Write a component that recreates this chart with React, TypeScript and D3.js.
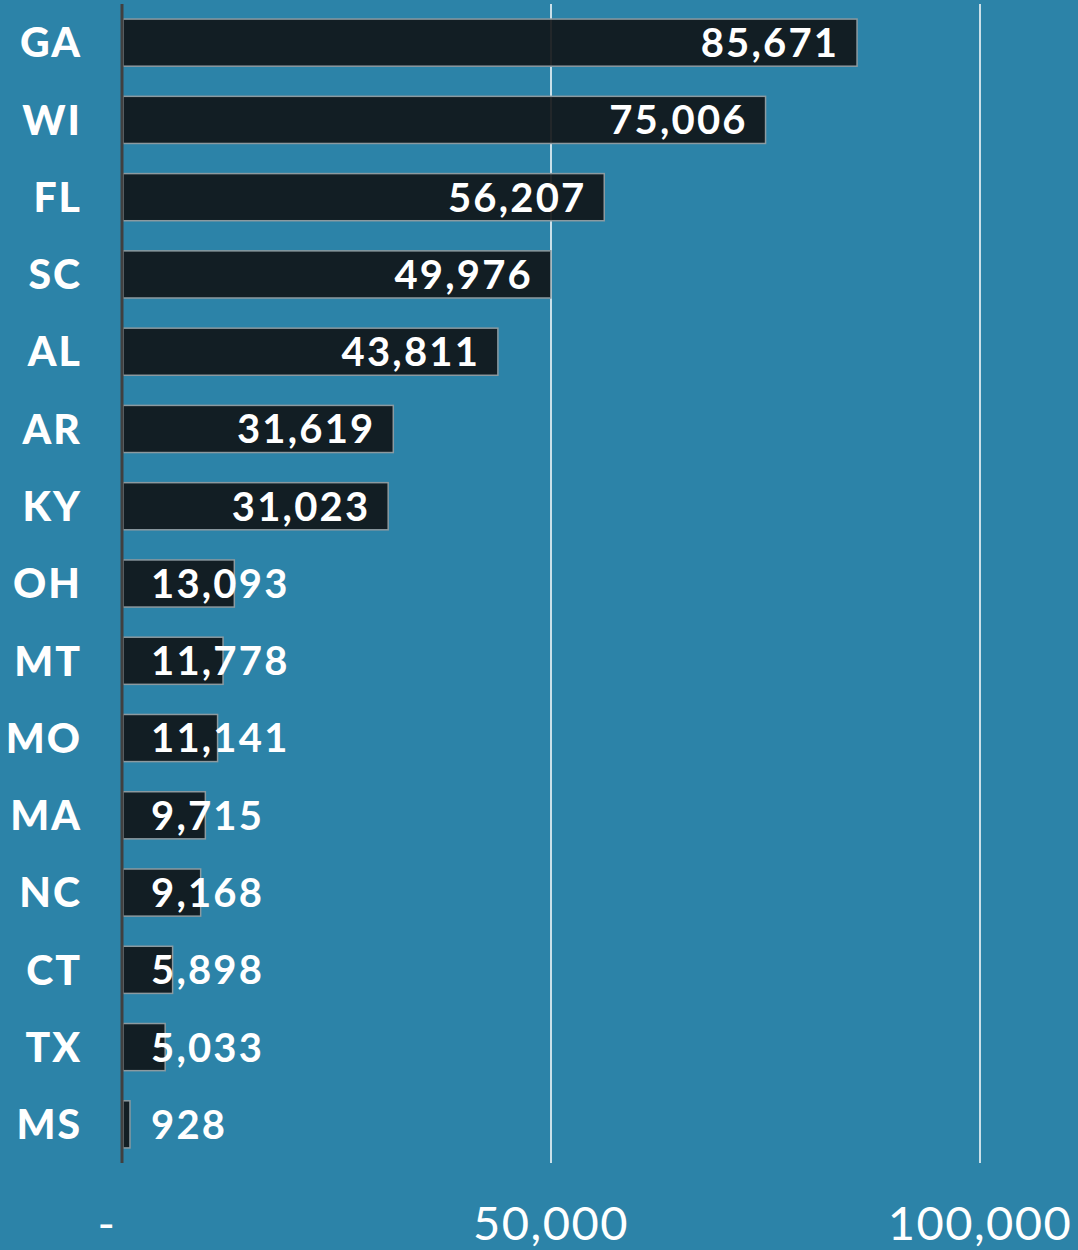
import React from "react";
import * as d3 from "d3";

const states = ["GA", "WI", "FL", "SC", "AL", "AR", "KY", "OH", "MT", "MO", "MA", "NC", "CT", "TX", "MS"];
const values = [85671, 75006, 56207, 49976, 43811, 31619, 31023, 13093, 11778, 11141, 9715, 9168, 5898, 5033, 928];
const ticks = [0, 50000, 100000];

const W = 1078;
const H = 1250;
const BG = "#2c83a8";
const FONT = "Lato, 'Noto Sans', sans-serif";

let ctx: CanvasRenderingContext2D | null = null;
function measure(text: string, font: string, spacing: number): number {
  if (!ctx) ctx = document.createElement("canvas").getContext("2d");
  if (!ctx) return text.length * 22;
  ctx.font = font;
  return ctx.measureText(text).width + spacing * text.length;
}

export default function App() {
  const x = d3.scaleLinear().domain([0, 100000]).range([122, 980]);
  const y = d3.scaleBand<string>().domain(states).range([4, 1163]).paddingInner(0.39).paddingOuter(0.195);
  const fmt = d3.format(",");
  const valueFont = `bold 40px ${FONT}`;
  const vSpacing = 2.2;

  return (
    <svg width={W} height={H} style={{ display: "block", position: "absolute", left: 0, top: 0 }}>
      <rect x={0} y={0} width={W} height={H} fill={BG} />
      {ticks.slice(1).map((t) => (
        <line key={t} x1={x(t)} x2={x(t)} y1={4} y2={1163} stroke="#ffffff" strokeWidth={1.5} />
      ))}
      {states.map((s, i) => (
        <rect
          key={s}
          x={x(0) + 1}
          y={y(s)!}
          width={x(values[i]) - x(0) - 1}
          height={y.bandwidth()}
          fill="rgb(16,19,21)"
          fillOpacity={0.9}
          stroke="#8c9aa0"
          strokeWidth={1.5}
        />
      ))}
      <line x1={x(0)} x2={x(0)} y1={4} y2={1163} stroke="#404040" strokeWidth={3} />
      {states.map((s) => (
        <text
          key={s}
          x={82}
          y={y(s)! + y.bandwidth() / 2}
          dy="0.36em"
          textAnchor="end"
          fill="#ffffff"
          fontFamily={FONT}
          fontWeight="900"
          fontSize={41}
          letterSpacing={2}
        >
          {s}
        </text>
      ))}
      {states.map((s, i) => {
        const label = fmt(values[i]);
        const w = measure(label, valueFont, vSpacing);
        const endX = x(values[i]) - 20 + vSpacing;
        const inside = endX - w >= 150;
        return (
          <text
            key={s}
            x={inside ? endX : 151}
            y={y(s)! + y.bandwidth() / 2}
            dy="0.36em"
            textAnchor={inside ? "end" : "start"}
            fill="#ffffff"
            fontFamily={FONT}
            fontWeight="bold"
            fontSize={40}
            letterSpacing={vSpacing}
          >
            {label}
          </text>
        );
      })}
      {ticks.map((t) => (
        <text
          key={t}
          x={t === 0 ? x(t) - 15 : x(t)}
          y={1240}
          textAnchor="middle"
          fill="#ffffff"
          fontFamily={FONT}
          fontSize={47}
          letterSpacing={1.5}
        >
          {t === 0 ? "-" : fmt(t)}
        </text>
      ))}
    </svg>
  );
}
